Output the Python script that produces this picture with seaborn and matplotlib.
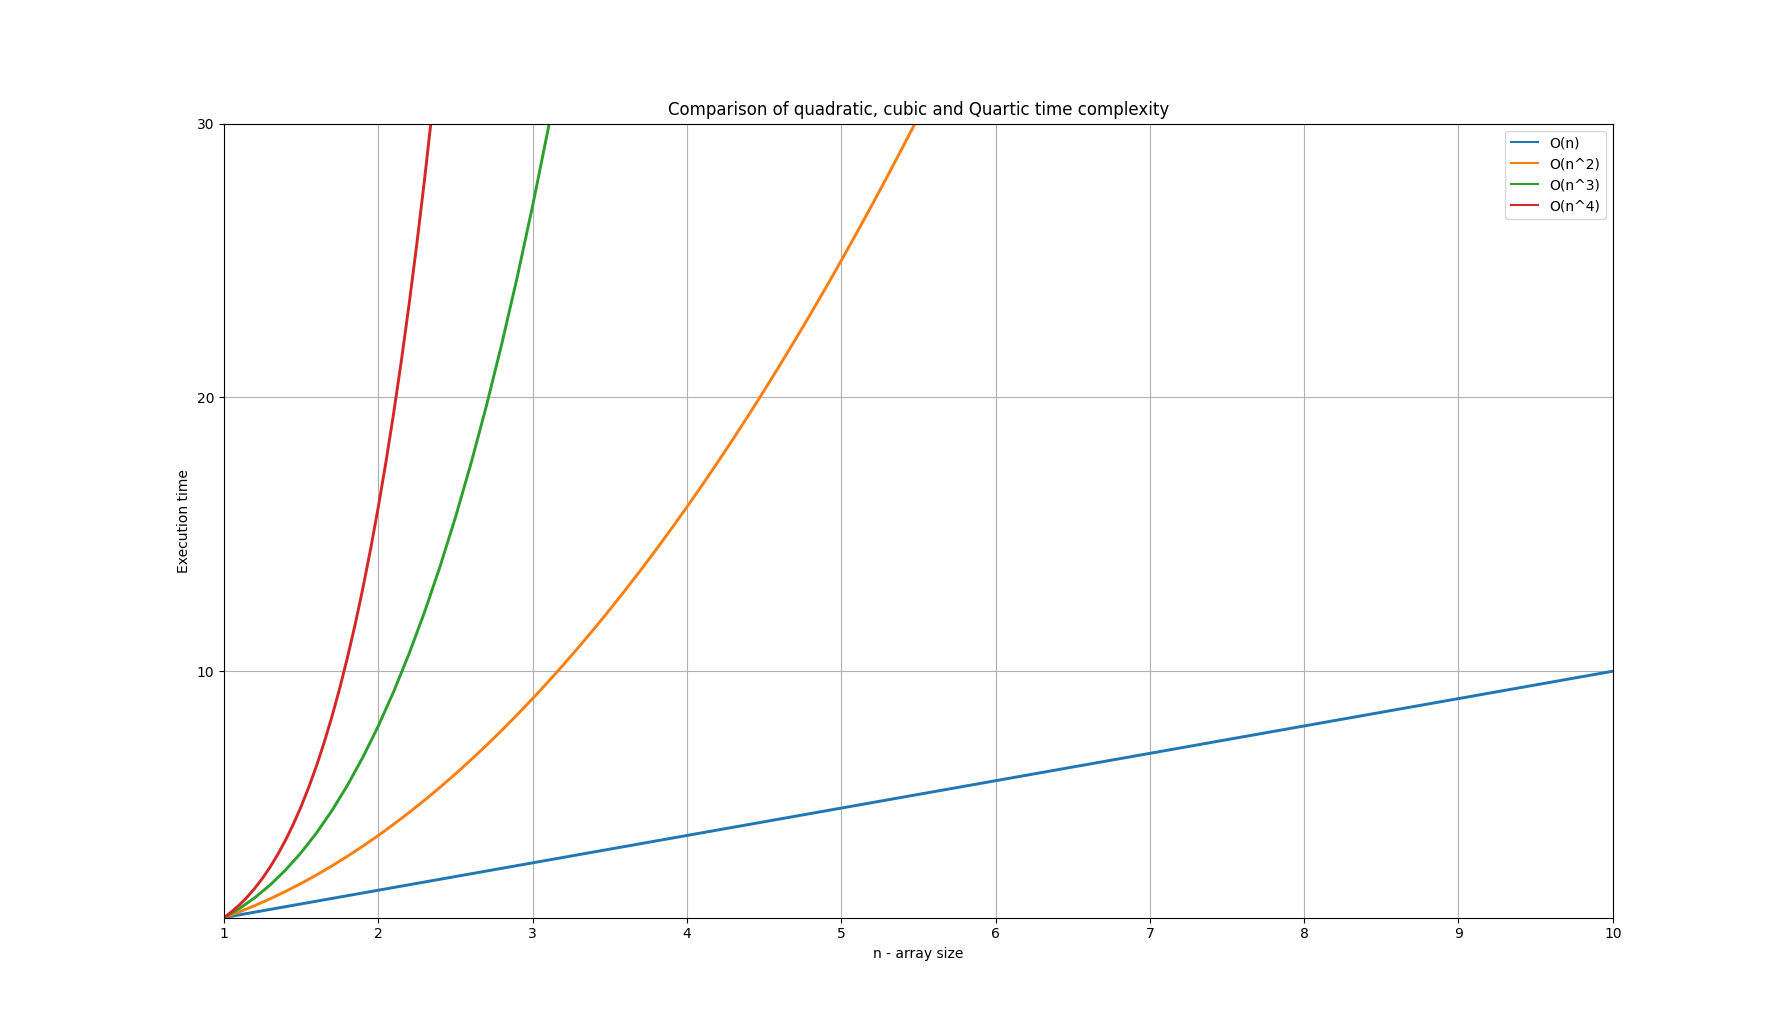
import matplotlib
matplotlib.use("Agg")
import matplotlib.pyplot as plt
import seaborn as sns
import pandas as pd

# Data
n_lin = [1, 10]
y_lin = [1, 10]

n_quad = [1.0, 1.1, 1.2, 1.3, 1.4, 1.5, 1.6, 1.7, 1.8, 1.9, 2.0, 2.1, 2.2, 2.3, 2.4,
          2.5, 2.6, 2.7, 2.8, 2.9, 3.0, 3.1, 3.2, 3.3, 3.4, 3.5, 3.6, 3.7, 3.8, 3.9,
          4.0, 4.1, 4.2, 4.3, 4.4, 4.5, 4.6, 4.7, 4.8, 4.9, 5.0, 5.1, 5.2, 5.3, 5.4, 5.5]
y_quad = [1, 1.21, 1.44, 1.69, 1.96, 2.25, 2.56, 2.89, 3.24, 3.61, 4, 4.41, 4.84, 5.29,
          5.76, 6.25, 6.76, 7.29, 7.84, 8.41, 9, 9.61, 10.24, 10.89, 11.56, 12.25, 12.96,
          13.69, 14.44, 15.21, 16, 16.81, 17.64, 18.49, 19.36, 20.25, 21.16, 22.09, 23.04,
          24.01, 25, 26.01, 27.04, 28.09, 29.16, 30.25]

n_cub = [1.0, 1.1, 1.2, 1.3, 1.4, 1.5, 1.6, 1.7, 1.8, 1.9, 2.0, 2.1, 2.2, 2.3, 2.4,
         2.5, 2.6, 2.7, 2.8, 2.9, 3.0, 3.1, 3.2]
y_cub = [1, 1.331, 1.728, 2.197, 2.744, 3.375, 4.096, 4.913, 5.832, 6.859, 8, 9.261,
         10.648, 12.167, 13.824, 15.625, 17.576, 19.683, 21.952, 24.389, 27, 29.791, 32.768]

n_quart = [1.00, 1.05, 1.10, 1.15, 1.20, 1.25, 1.30, 1.35, 1.40, 1.45, 1.50, 1.55,
           1.60, 1.65, 1.70, 1.75, 1.80, 1.85, 1.90, 1.95, 2.00, 2.05, 2.10, 2.15,
           2.20, 2.25, 2.30, 2.35, 2.40]
y_quart = [1, 1.2155, 1.4641, 1.7490, 2.0736, 2.4414, 2.8561, 3.3215, 3.8416, 4.4205,
           5.0625, 5.7720, 6.5536, 7.4120, 8.3521, 9.3789, 10.4976, 11.7135, 13.0321,
           14.4590, 16, 17.6610, 19.4481, 21.3675, 23.4256, 25.6289, 27.9841, 30.4980,
           33.1776]

labels = ["O(n)", "O(n^2)", "O(n^3)", "O(n^4)"]
x_ticks = [1, 2, 3, 4, 5, 6, 7, 8, 9, 10]
y_ticks = [10, 20, 30]

fig, ax = plt.subplots(figsize=(17.92, 10.31), dpi=100)
colors = ["#1f77b4", "#ff7f0e", "#2ca02c", "#d62728"]
series = [(n_lin, y_lin), (n_quad, y_quad), (n_cub, y_cub), (n_quart, y_quart)]
for (xs, ys), lab, c in zip(series, labels, colors):
    df = pd.DataFrame({"n": xs, "t": ys})
    sns.lineplot(data=df, x="n", y="t", ax=ax, label=lab, color=c, linewidth=2.1,
                 estimator=None, sort=False)

ax.set_xlim(1, 10)
ax.set_ylim(1, 30)
ax.set_xticks(x_ticks)
ax.set_yticks(y_ticks)
ax.grid(True)
ax.set_xlabel("n - array size")
ax.set_ylabel("Execution time")
ax.set_title("Comparison of quadratic, cubic and Quartic time complexity")
leg = ax.legend(loc="upper right")
for h in leg.get_lines():
    h.set_linewidth(1.5)

fig.savefig("out.png", dpi=100)
